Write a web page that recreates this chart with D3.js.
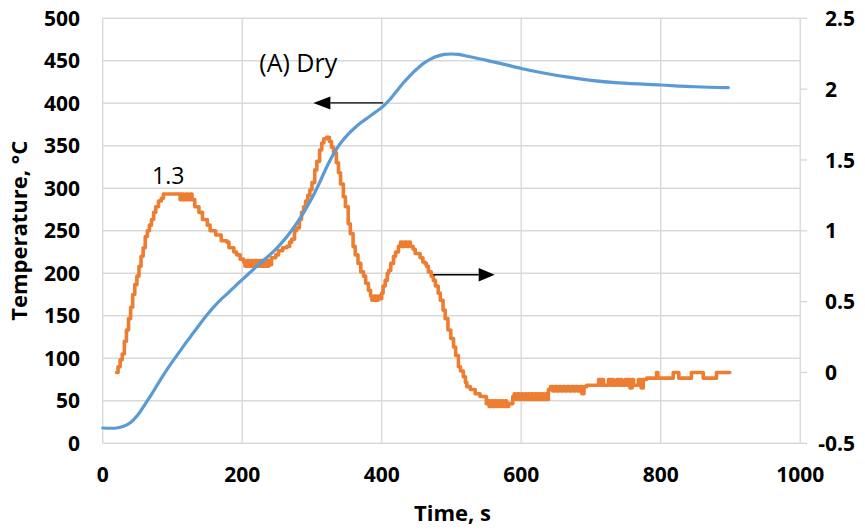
<!DOCTYPE html>
<html>
<head>
<meta charset="utf-8">
<script src="https://cdn.jsdelivr.net/npm/d3@7"></script>
<style>
  html, body { margin: 0; padding: 0; background: #ffffff; }
  svg { display: block; }
  text { font-family: "Open Sans", "Liberation Sans", sans-serif; fill: #000; }
</style>
</head>
<body>
<svg id="chart" width="865" height="531"></svg>
<script>
// ---- data ----
// time (s) axis ticks
const xTicks = [0, 200, 400, 600, 800, 1000];
// primary axis: temperature, °C
const yLeftTicks = [0, 50, 100, 150, 200, 250, 300, 350, 400, 450, 500];
// secondary axis ticks
const yRightTicks = [-0.5, 0, 0.5, 1, 1.5, 2, 2.5];

// temperature trace [time s, °C]
const tempSeries = [
  [0, 18], [20, 18], [30, 20], [40, 24.5], [50, 33], [60, 45], [70, 57.5], [80, 71],
  [90, 84], [100, 96], [110, 107.5], [120, 119], [130, 130], [140, 141], [150, 151.5],
  [160, 161], [170, 169.5], [180, 177], [190, 185], [200, 192.5], [210, 200], [220, 207.5],
  [230, 215], [240, 222], [250, 230], [260, 239], [270, 249.5], [280, 261], [290, 274],
  [300, 288.5], [310, 305], [320, 323], [330, 339], [340, 352], [350, 362], [360, 370],
  [370, 377], [380, 383], [390, 389], [400, 395], [410, 403], [420, 413], [430, 423],
  [440, 432], [450, 440], [460, 447], [470, 452], [480, 455.5], [490, 457.5], [500, 458],
  [510, 457.5], [525, 455], [545, 451.5], [570, 447], [600, 441], [630, 436], [665, 431],
  [700, 427], [740, 424], [800, 421.5], [850, 419.5], [897, 418.5]
];

// stepped secondary-axis signal [time s, value]
const signalSeries = [
  [20, 0.00], [22, 0.04], [25, 0.09], [28, 0.13], [31, 0.22], [34, 0.30], [37, 0.38],
  [40, 0.46], [43, 0.55], [46, 0.62], [49, 0.68], [52, 0.75], [55, 0.82], [58, 0.88],
  [61, 0.96], [64, 1.00], [67, 1.04], [70, 1.08], [73, 1.13], [76, 1.17], [80, 1.21],
  [84, 1.23], [87, 1.26], [111, 1.22], [113, 1.26], [116, 1.22], [119, 1.26], [122, 1.22],
  [125, 1.26], [128, 1.22], [132, 1.17], [138, 1.13], [143, 1.08], [150, 1.04], [154, 1.00],
  [162, 0.97], [170, 0.93], [178, 0.92], [181, 0.88], [188, 0.85], [192, 0.83], [197, 0.80],
  [202, 0.78], [204, 0.75], [207, 0.79], [210, 0.75], [213, 0.79], [216, 0.75], [219, 0.79],
  [222, 0.75], [226, 0.79], [229, 0.75], [232, 0.79], [235, 0.75], [238, 0.79], [240, 0.76],
  [242, 0.81], [248, 0.83], [252, 0.86], [258, 0.88], [264, 0.89], [268, 0.92], [271, 0.94],
  [275, 1.00], [278, 1.02], [282, 1.08], [285, 1.13], [288, 1.17], [291, 1.21], [294, 1.25],
  [297, 1.29], [300, 1.34], [304, 1.43], [307, 1.49], [311, 1.57], [314, 1.62], [317, 1.65],
  [321, 1.66], [325, 1.63], [328, 1.59], [331, 1.55], [335, 1.48], [338, 1.41], [341, 1.33],
  [345, 1.24], [348, 1.17], [352, 1.05], [355, 0.98], [359, 0.89], [362, 0.83], [366, 0.77],
  [370, 0.71], [374, 0.68], [377, 0.63], [381, 0.58], [384, 0.54], [386, 0.51], [389, 0.54],
  [392, 0.51], [395, 0.54], [398, 0.52], [400, 0.56], [402, 0.61], [405, 0.65], [408, 0.70],
  [410, 0.72], [413, 0.77], [417, 0.82], [420, 0.85], [424, 0.89], [427, 0.92], [430, 0.89],
  [433, 0.92], [436, 0.89], [439, 0.92], [441, 0.89], [445, 0.87], [448, 0.84], [452, 0.84],
  [455, 0.81], [459, 0.78], [462, 0.77], [464, 0.75], [467, 0.71], [471, 0.68], [474, 0.65],
  [477, 0.61], [481, 0.56], [484, 0.51], [488, 0.44], [491, 0.38], [495, 0.30], [499, 0.24],
  [503, 0.18], [506, 0.12], [510, 0.04], [513, 0.01], [517, -0.03], [520, -0.07], [522, -0.10],
  [527, -0.12], [531, -0.12], [534, -0.15], [538, -0.15], [541, -0.17], [546, -0.17],
  [550, -0.22], [552, -0.20], [554, -0.24], [557, -0.20], [559, -0.24], [562, -0.20],
  [564, -0.24], [567, -0.20], [569, -0.24], [572, -0.20], [574, -0.24], [577, -0.20],
  [579, -0.24], [582, -0.22], [588, -0.17], [590, -0.15], [592, -0.19], [595, -0.15],
  [597, -0.19], [600, -0.15], [602, -0.19], [605, -0.15], [607, -0.19], [610, -0.15],
  [612, -0.19], [615, -0.15], [617, -0.19], [620, -0.15], [622, -0.19], [625, -0.15],
  [627, -0.19], [630, -0.15], [632, -0.19], [635, -0.15], [637, -0.19], [639, -0.12],
  [642, -0.10], [645, -0.13], [648, -0.10], [651, -0.13], [654, -0.10], [657, -0.13],
  [660, -0.10], [663, -0.13], [666, -0.10], [669, -0.13], [672, -0.10], [675, -0.13],
  [678, -0.10], [681, -0.13], [684, -0.10], [687, -0.15], [690, -0.10], [694, -0.09],
  [711, -0.05], [714, -0.09], [716, -0.05], [718, -0.09], [725, -0.05], [728, -0.09],
  [730, -0.05], [732, -0.09], [737, -0.05], [740, -0.09], [742, -0.05], [744, -0.09],
  [749, -0.05], [752, -0.09], [754, -0.05], [756, -0.11], [759, -0.05], [761, -0.09],
  [768, -0.05], [772, -0.11], [775, -0.05], [780, -0.04], [794, 0.00], [796, -0.04],
  [818, 0.00], [826, -0.04], [844, 0.00], [861, -0.04], [880, 0.00], [899, 0.00]
];

// annotation anchors, in data units
const dryLabel = { text: "(A) Dry", t: 224.5, temp: 437 };
const leftArrow = { from: 402, to: 302, temp: 400.5 };   // points to the temperature axis
const rightArrow = { from: 474, to: 562, value: 0.69 };  // points to the secondary axis

// ---- layout ----
const svg = d3.select("#chart");
const plot = { left: 102.7, right: 800.2, top: 18.3, bottom: 443.3 };

const x = d3.scaleLinear().domain([0, 1000]).range([plot.left, plot.right]);
const yL = d3.scaleLinear().domain([0, 500]).range([plot.bottom, plot.top]);
const yR = d3.scaleLinear().domain([-0.5, 2.5]).range([plot.bottom, plot.top]);

const gridColor = "#d9d9d9";

// horizontal gridlines
svg.append("g").selectAll("line").data(yLeftTicks).join("line")
  .attr("x1", plot.left).attr("x2", plot.right)
  .attr("y1", d => yL(d)).attr("y2", d => yL(d))
  .attr("stroke", gridColor).attr("stroke-width", 1.4);

// vertical gridlines (including plot edges)
svg.append("g").selectAll("line").data(xTicks).join("line")
  .attr("x1", d => x(d)).attr("x2", d => x(d))
  .attr("y1", plot.top).attr("y2", plot.bottom)
  .attr("stroke", gridColor).attr("stroke-width", 1.4);

// secondary axis tick marks on the outside
svg.append("g").selectAll("line").data(yRightTicks).join("line")
  .attr("x1", plot.right).attr("x2", plot.right + 7)
  .attr("y1", d => yR(d)).attr("y2", d => yR(d))
  .attr("stroke", gridColor).attr("stroke-width", 1.4);

// tick labels
const tickFont = { size: 21, weight: 700 };

svg.append("g").selectAll("text").data(yLeftTicks).join("text")
  .attr("x", 80).attr("y", d => yL(d)).attr("dy", "0.36em")
  .attr("text-anchor", "end")
  .style("font-size", tickFont.size + "px").style("font-weight", tickFont.weight)
  .text(d => d);

const rightLabels = svg.append("g").selectAll("text").data(yRightTicks).join("text")
  .attr("x", 825).attr("y", d => yR(d)).attr("dy", "0.36em")
  .attr("text-anchor", "start")
  .style("font-size", tickFont.size + "px").style("font-weight", tickFont.weight)
  .text(d => d < 0 ? "-" + Math.abs(d) : d);
// keep wide labels inside the canvas
rightLabels.each(function () {
  const w = this.getComputedTextLength();
  const maxRight = 855;
  if (825 + w > maxRight) d3.select(this).attr("x", maxRight - w);
});

svg.append("g").selectAll("text").data(xTicks).join("text")
  .attr("x", d => x(d)).attr("y", 482)
  .attr("text-anchor", "middle")
  .style("font-size", tickFont.size + "px").style("font-weight", tickFont.weight)
  .text(d => d);

// axis titles
svg.append("text")
  .attr("x", (plot.left + plot.right) / 2 + 1).attr("y", 521)
  .attr("text-anchor", "middle")
  .style("font-size", "22px").style("font-weight", 700)
  .text("Time, s");

svg.append("text")
  .attr("transform", `translate(27, ${(plot.top + plot.bottom) / 2}) rotate(-90)`)
  .attr("text-anchor", "middle")
  .style("font-size", "22px").style("font-weight", 700)
  .text("Temperature, °C");

// ---- series ----
const signalLine = d3.line()
  .x(d => x(d[0])).y(d => yR(d[1]))
  .curve(d3.curveStepAfter);

svg.append("path")
  .datum(signalSeries)
  .attr("d", signalLine)
  .attr("fill", "none")
  .attr("stroke", "#ED7D31")
  .attr("stroke-width", 3.6)
  .attr("stroke-linejoin", "round")
  .attr("stroke-linecap", "round");

const tempLine = d3.line()
  .x(d => x(d[0])).y(d => yL(d[1]))
  .curve(d3.curveCatmullRom.alpha(0.5));

svg.append("path")
  .datum(tempSeries)
  .attr("d", tempLine)
  .attr("fill", "none")
  .attr("stroke", "#5B9BD5")
  .attr("stroke-width", 3.2)
  .attr("stroke-linejoin", "round")
  .attr("stroke-linecap", "round");

// ---- annotations ----
// peak value of the first hump
const firstHump = signalSeries.filter(d => d[0] < 200);
const hump = firstHump.reduce((a, b) => (b[1] > a[1] ? b : a));
svg.append("text")
  .attr("x", x(94)).attr("y", yR(hump[1]) - 10)
  .attr("text-anchor", "middle")
  .style("font-size", "23px")
  .text(d3.format(".1f")(hump[1]));

svg.append("text")
  .attr("x", x(dryLabel.t)).attr("y", yL(dryLabel.temp))
  .style("font-size", "25px")
  .text(dryLabel.text);

function arrow(x0, x1, yPix, headLen, headHalf) {
  const dir = Math.sign(x1 - x0);
  const base = x1 - dir * headLen;
  svg.append("line")
    .attr("x1", x0).attr("x2", base)
    .attr("y1", yPix).attr("y2", yPix)
    .attr("stroke", "#000").attr("stroke-width", 1.4);
  svg.append("path")
    .attr("d", `M${x1},${yPix}L${base},${yPix - headHalf}L${base},${yPix + headHalf}Z`)
    .attr("fill", "#000");
}

arrow(x(leftArrow.from), x(leftArrow.to), yL(leftArrow.temp), 17, 6.5);
arrow(x(rightArrow.from), x(rightArrow.to), yR(rightArrow.value), 16, 6.7);
</script>
</body>
</html>
